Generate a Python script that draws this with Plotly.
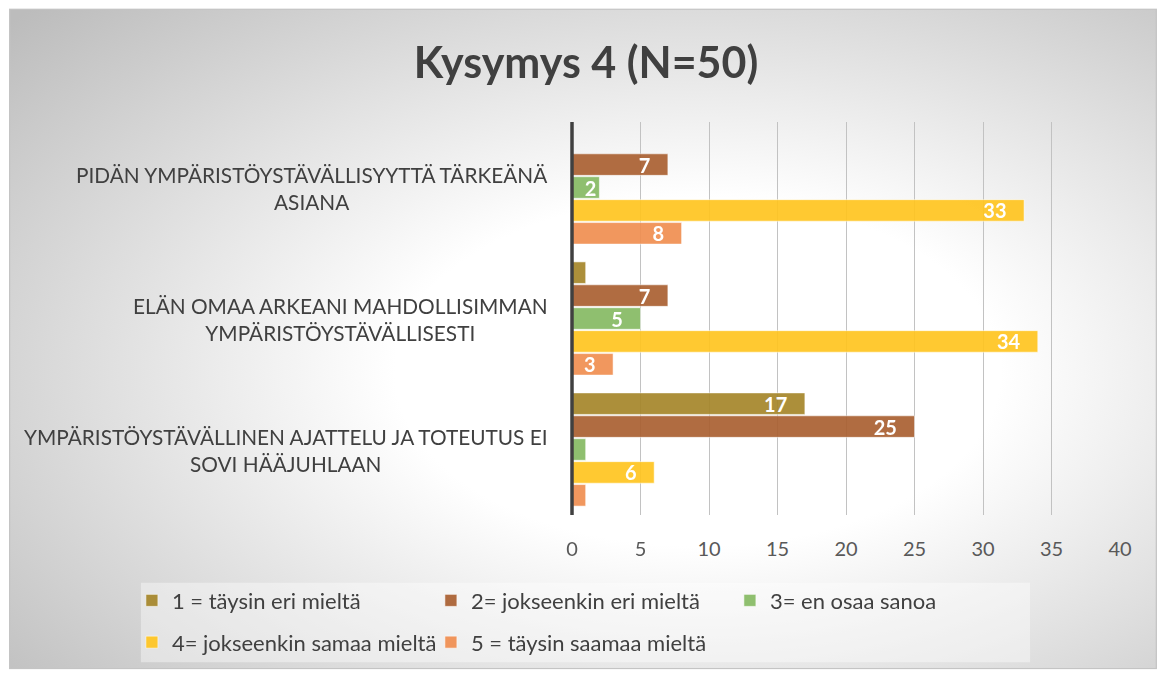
import base64
import plotly.graph_objects as go

# data
categories = [
    "PIDÄN YMPÄRISTÖYSTÄVÄLLISYYTTÄ TÄRKEÄNÄ<br>ASIANA",
    "ELÄN OMAA ARKEANI MAHDOLLISIMMAN<br>YMPÄRISTÖYSTÄVÄLLISESTI",
    "YMPÄRISTÖYSTÄVÄLLINEN AJATTELU JA TOTEUTUS EI<br>SOVI HÄÄJUHLAAN",
]
series_names = [
    "1 = täysin eri mieltä",
    "2= jokseenkin eri mieltä",
    "3= en osaa sanoa",
    "4= jokseenkin samaa mieltä",
    "5 = täysin saamaa mieltä",
]
s1 = [0, 1, 17]
s2 = [7, 7, 25]
s3 = [2, 5, 1]
s4 = [33, 34, 6]
s5 = [8, 3, 1]
x_ticks = [0, 5, 10, 15, 20, 25, 30, 35, 40]

colors = ["#a5862a", "#a95f30", "#86ba63", "#ffc51f", "#f08e50"]
FONT = "Lato"
W, H = 1165, 675
ML, MR, MT, MB = 571.5, 45, 122, 158
PW, PH = W - ML - MR, H - MT - MB


def px2x(px):
    return (px - ML) / PW


def px2y(py):
    return (H - MB - py) / PH


def label(v):
    if v < 2:
        return ""
    if v < 3:
        return str(v)
    return str(v) + "\u00a0" * 3


fig = go.Figure()
all_series = [s1, s2, s3, s4, s5]
for i, (name, vals) in enumerate(zip(series_names, all_series)):
    fig.add_trace(go.Bar(
        y=categories, x=vals, name=name, orientation="h",
        marker=dict(color=colors[i], line=dict(color="rgba(255,255,255,0.55)", width=1)),
        opacity=0.92,
        text=[label(v) for v in vals],
        textposition="inside", insidetextanchor="end", constraintext="none", textangle=0,
        textfont=dict(family=FONT, size=20, color="white", weight="bold"),
        legend="legend" if i < 3 else "legend2",
        hoverinfo="x+name",
    ))

# background with radial gradient, drawn as an svg image
BX, BY, BW, BH = 8, 8, 1149, 664
svg = f'''<svg xmlns="http://www.w3.org/2000/svg" width="{BW}" height="{BH}" viewBox="0 0 {BW} {BH}">
<defs><radialGradient id="g" cx="0.6" cy="0.55" r="0.8">
<stop offset="0" stop-color="#ffffff"/><stop offset="0.33" stop-color="#ffffff"/>
<stop offset="1" stop-color="#bcbcbc"/></radialGradient></defs>
<rect x="0.5" y="0.5" width="{BW-1}" height="{BH-1}" fill="url(#g)" stroke="#c4c4c4" stroke-width="1.5"/></svg>'''
src = "data:image/svg+xml;base64," + base64.b64encode(svg.encode()).decode()
fig.add_layout_image(dict(
    source=src, xref="paper", yref="paper",
    x=px2x(BX), y=px2y(BY), sizex=BW / PW, sizey=BH / PH,
    xanchor="left", yanchor="top", sizing="stretch", layer="below",
))

# legend box
fig.add_shape(type="rect", xref="paper", yref="paper",
              x0=px2x(140), x1=px2x(1030), y0=px2y(585), y1=px2y(665),
              fillcolor="rgba(255,255,255,0.4)", line=dict(width=0), layer="below")

# category axis line, drawn over the bars (paper ref so it is not clipped)
fig.add_shape(type="line", xref="paper", yref="paper", x0=0, x1=0, y0=0, y1=1,
              line=dict(color="#404040", width=3.5), layer="above")

# category labels, lines centred on each other
for cat in categories:
    fig.add_annotation(
        x=px2x(549), y=cat, xref="paper", yref="y", text=cat,
        xanchor="right", yanchor="middle", align="center", showarrow=False,
        font=dict(family=FONT, size=20.8, color="#404040"),
    )

legend_common = dict(
    orientation="h", xanchor="left", yanchor="middle",
    bgcolor="rgba(0,0,0,0)", entrywidth=254, entrywidthmode="pixels",
    font=dict(family=FONT, size=22, color="#404040"),
)
fig.update_layout(
    width=W, height=H,
    margin=dict(l=ML, r=MR, t=MT, b=MB),
    paper_bgcolor="white", plot_bgcolor="rgba(0,0,0,0)",
    title=dict(text="<b>Kysymys 4 (N=50)</b>", x=0.503, xref="container",
               y=1 - 63 / H, yref="container", xanchor="center", yanchor="middle",
               font=dict(family=FONT, size=43, color="#404040")),
    barmode="group", bargap=0.125, bargroupgap=0.06,
    xaxis=dict(range=[0, 40], tickvals=x_ticks, showgrid=True, gridcolor="#c2c2c2",
               gridwidth=1, zeroline=False, showline=False, ticks="",
               ticklabelstandoff=20,
               tickfont=dict(family=FONT, size=20, color="#595959")),
    yaxis=dict(autorange="reversed", showticklabels=False, showgrid=False,
               showline=False, ticks=""),
    legend=dict(x=px2x(131), y=px2y(603), **legend_common),
    legend2=dict(x=px2x(131), y=px2y(645), **legend_common),
    font=dict(family=FONT),
)

fig.write_html("out.html", config={"displayModeBar": False},
               post_script="document.body.style.margin='0';")
